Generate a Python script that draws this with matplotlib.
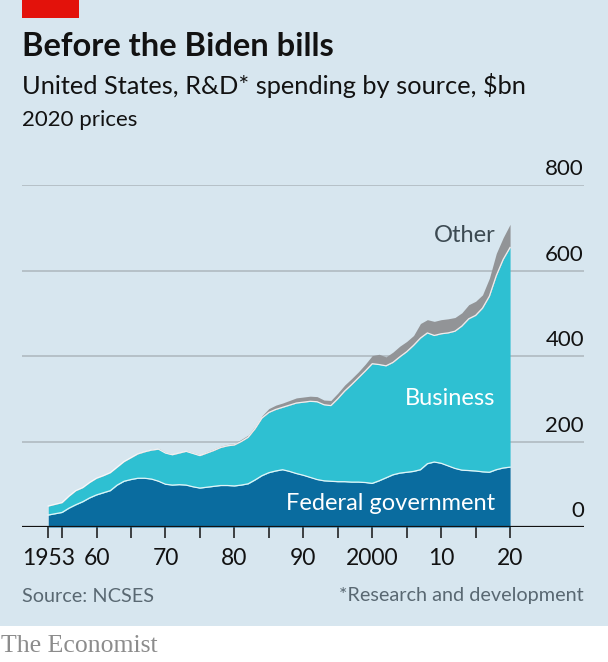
import numpy as np
import matplotlib
matplotlib.use("Agg")
import matplotlib.pyplot as plt
from matplotlib.patches import Rectangle

years = list(range(1953, 2021))

# $bn, 2020 prices
federal = [28, 31, 34, 44, 52, 59, 68, 75, 80, 85,
           98, 107, 111, 114, 114, 112, 107, 100, 98, 99,
           98, 94, 91, 93, 95, 97, 97, 96, 98, 101,
           110, 120, 127, 131, 134, 130, 125, 121, 116, 111,
           108, 107, 106, 106, 105, 105, 104, 102, 108, 115,
           122, 126, 128, 130, 134, 148, 152, 149, 143, 137,
           133, 132, 131, 129, 128, 134, 138, 140]

federal_plus_business = [49, 53, 57, 72, 85, 92, 104, 114, 120, 127,
                         140, 153, 162, 171, 176, 180, 182, 173, 169, 173,
                         177, 172, 167, 173, 179, 186, 190, 192, 200, 210,
                         230, 255, 268, 275, 280, 285, 290, 292, 294, 293,
                         286, 284, 300, 318, 333, 349, 365, 382, 380, 377,
                         385, 398, 410, 425, 442, 454, 448, 452, 454, 458,
                         470, 487, 495, 512, 540, 588, 626, 654]

other = [1, 1, 1, 1, 1, 1, 1, 1, 1, 1,
         1, 1, 1, 2, 2, 2, 2, 2, 2, 2,
         2, 2, 2, 3, 3, 3, 3, 3, 5, 5,
         5, 5, 9, 10, 10, 11, 12, 12, 12, 12,
         11, 12, 13, 14, 14, 14, 16, 19, 24, 21,
         24, 25, 24, 23, 34, 31, 33, 33, 33, 32,
         31, 33, 33, 31, 42, 52, 51, 54]

business = [fb - f for fb, f in zip(federal_plus_business, federal)]

y_ticks = [0, 200, 400, 600, 800]
x_ticks = [1953, 1960, 1970, 1980, 1990, 2000, 2010, 2020]
x_tick_labels = ["1953", "60", "70", "80", "90", "2000", "10", "20"]
minor_ticks = [1955, 1965, 1975, 1985, 1995, 2005, 2015]

BG = "#d7e6ef"
FED = "#0a6c9f"
BUS = "#2ec0d2"
OTH = "#929497"
GRID = "#b3bec4"
TXT = "#121212"

plt.rcParams['font.family'] = ['Lato', 'DejaVu Sans']

fig = plt.figure(figsize=(6.08, 6.62), dpi=100)
fig.patch.set_facecolor("white")
fig.patches.append(Rectangle((0, 1 - 626 / 662), 1, 626 / 662, transform=fig.transFigure,
                             facecolor=BG, edgecolor="none", zorder=-10))
fig.patches.append(Rectangle((22 / 608, 1 - 18 / 662), 57 / 608, 18 / 662, transform=fig.transFigure,
                             facecolor="#e3120b", edgecolor="none"))

ax = fig.add_axes([22 / 608, 1 - 527 / 662, 562 / 608, 342 / 662])
ax.set_facecolor("none")

x = np.array(years)
f = np.array(federal)
fb = f + np.array(business)
tot = fb + np.array(other)

ax.fill_between(x, 0, f, color=FED, lw=0, zorder=2)
ax.fill_between(x, f, fb, color=BUS, lw=0, zorder=2)
ax.fill_between(x, fb, tot, color=OTH, lw=0, zorder=2)
ax.plot(x, f, color="white", lw=0.9, alpha=0.85, zorder=3)
ax.plot(x, fb, color="white", lw=0.9, alpha=0.85, zorder=3)

x_left = 1953 - 26.3 / 6.9
x_right = 2020 + 74 / 6.9
ax.set_xlim(x_left, x_right)
ax.set_ylim(0, 800)

for v in y_ticks[1:]:
    ax.axhline(v, color=GRID, lw=1.3, zorder=1)
for v in y_ticks:
    ax.text(x_right, v + 14, str(v), ha="right", va="bottom", fontsize=16,
            color=TXT, zorder=4)
ax.axhline(0, color=TXT, lw=1.6, zorder=4)

for s in ax.spines.values():
    s.set_visible(False)
ax.set_yticks([])
ax.set_xticks(x_ticks + minor_ticks)
ax.set_xticklabels(x_tick_labels + [""] * len(minor_ticks), fontsize=16.5, color=TXT)
ax.tick_params(axis="x", length=8, width=1.1, color=TXT, pad=7)

ax.text(2013.4, 683, "Other", ha="center", va="center", fontsize=17, color="#3c4a52", zorder=5)
ax.text(2011.3, 300, "Business", ha="center", va="center", fontsize=17, color="white", zorder=5)
ax.text(2002.6, 55, "Federal government", ha="center", va="center", fontsize=17,
        color="white", zorder=5)

fig.text(22 / 608, 1 - 47 / 662, "Before the Biden bills", fontsize=23.5, fontweight="bold",
         color=TXT, va="center", ha="left")
fig.text(22 / 608, 1 - 86 / 662, "United States, R&D* spending by source, $bn", fontsize=18.3,
         color=TXT, va="center", ha="left")
fig.text(22 / 608, 1 - 120 / 662, "2020 prices", fontsize=16, color=TXT, va="center", ha="left")

fig.text(22 / 608, 1 - 596 / 662, "Source: NCSES", fontsize=14.3, color="#596872",
         va="center", ha="left")
fig.text(584 / 608, 1 - 596 / 662, "*Research and development", fontsize=14.3, color="#596872",
         va="center", ha="right")
fig.text(1 / 608, 1 - 646 / 662, "The Economist", fontsize=18.5, color="#8c8c8c",
         family="Liberation Serif", va="center", ha="left")

fig.savefig("out.png", dpi=100, facecolor=fig.get_facecolor())
